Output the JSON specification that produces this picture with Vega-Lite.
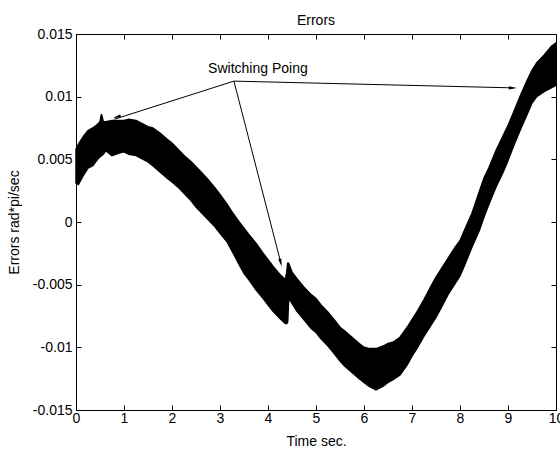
{
  "$schema": "https://vega.github.io/schema/vega-lite/v6.json",
  "width": 480,
  "height": 376,
  "autosize": {"type": "none"},
  "padding": {"left": 76, "top": 34, "right": 4, "bottom": 39},
  "background": "white",
  "title": {"text": "Errors", "fontSize": 14, "font": "Liberation Sans", "fontWeight": "normal", "baseline": "alphabetic", "offset": -12, "anchor": "middle", "color": "black"},
  "config": {
    "font": "Liberation Sans",
    "view": {"stroke": null},
    "axis": {
      "grid": false,
      "domainColor": "black",
      "tickColor": "black",
      "labelColor": "black",
      "titleColor": "black",
      "labelFontSize": 14,
      "titleFontSize": 14,
      "titleFontWeight": "normal",
      "labelFont": "Liberation Sans",
      "titleFont": "Liberation Sans",
      "tickSize": -5,
      "domainWidth": 1,
      "tickWidth": 1
    }
  },
  "layer": [
    {
      "data": {"values": [
        {"t": 0.00, "hi": 0.0058, "lo": 0.0031},
        {"t": 0.05, "hi": 0.0062, "lo": 0.0030},
        {"t": 0.15, "hi": 0.0068, "lo": 0.0037},
        {"t": 0.25, "hi": 0.0073, "lo": 0.0043},
        {"t": 0.35, "hi": 0.0075, "lo": 0.0045},
        {"t": 0.45, "hi": 0.0078, "lo": 0.0050},
        {"t": 0.50, "hi": 0.0080, "lo": 0.0052},
        {"t": 0.53, "hi": 0.0086, "lo": 0.0053},
        {"t": 0.57, "hi": 0.0080, "lo": 0.0054},
        {"t": 0.62, "hi": 0.0080, "lo": 0.0057},
        {"t": 0.75, "hi": 0.0081, "lo": 0.0053},
        {"t": 0.90, "hi": 0.0081, "lo": 0.0055},
        {"t": 1.00, "hi": 0.0081, "lo": 0.0056},
        {"t": 1.10, "hi": 0.0082, "lo": 0.0054},
        {"t": 1.25, "hi": 0.0081, "lo": 0.0053},
        {"t": 1.40, "hi": 0.0078, "lo": 0.0050},
        {"t": 1.50, "hi": 0.0076, "lo": 0.0048},
        {"t": 1.60, "hi": 0.0075, "lo": 0.0045},
        {"t": 1.75, "hi": 0.0071, "lo": 0.0040},
        {"t": 1.90, "hi": 0.0066, "lo": 0.0035},
        {"t": 2.00, "hi": 0.0063, "lo": 0.0032},
        {"t": 2.15, "hi": 0.0057, "lo": 0.0027},
        {"t": 2.25, "hi": 0.0053, "lo": 0.0023},
        {"t": 2.40, "hi": 0.0048, "lo": 0.0017},
        {"t": 2.50, "hi": 0.0044, "lo": 0.0012},
        {"t": 2.65, "hi": 0.0038, "lo": 0.0006},
        {"t": 2.75, "hi": 0.0034, "lo": 0.0002},
        {"t": 2.90, "hi": 0.0027, "lo": -0.0004},
        {"t": 3.00, "hi": 0.0022, "lo": -0.0009},
        {"t": 3.15, "hi": 0.0014, "lo": -0.0016},
        {"t": 3.25, "hi": 0.0008, "lo": -0.0023},
        {"t": 3.40, "hi": 0.0000, "lo": -0.0034},
        {"t": 3.50, "hi": -0.0005, "lo": -0.0041},
        {"t": 3.60, "hi": -0.0010, "lo": -0.0046},
        {"t": 3.75, "hi": -0.0017, "lo": -0.0054},
        {"t": 3.90, "hi": -0.0025, "lo": -0.0061},
        {"t": 4.00, "hi": -0.0030, "lo": -0.0066},
        {"t": 4.10, "hi": -0.0035, "lo": -0.0071},
        {"t": 4.25, "hi": -0.0042, "lo": -0.0077},
        {"t": 4.36, "hi": -0.0046, "lo": -0.0081},
        {"t": 4.39, "hi": -0.0040, "lo": -0.0081},
        {"t": 4.41, "hi": -0.0033, "lo": -0.0080},
        {"t": 4.43, "hi": -0.0033, "lo": -0.0062},
        {"t": 4.47, "hi": -0.0037, "lo": -0.0063},
        {"t": 4.50, "hi": -0.0040, "lo": -0.0065},
        {"t": 4.60, "hi": -0.0045, "lo": -0.0071},
        {"t": 4.75, "hi": -0.0052, "lo": -0.0078},
        {"t": 4.90, "hi": -0.0058, "lo": -0.0085},
        {"t": 5.00, "hi": -0.0061, "lo": -0.0088},
        {"t": 5.10, "hi": -0.0066, "lo": -0.0093},
        {"t": 5.25, "hi": -0.0072, "lo": -0.0099},
        {"t": 5.40, "hi": -0.0079, "lo": -0.0106},
        {"t": 5.50, "hi": -0.0084, "lo": -0.0111},
        {"t": 5.60, "hi": -0.0087, "lo": -0.0115},
        {"t": 5.75, "hi": -0.0092, "lo": -0.0120},
        {"t": 5.90, "hi": -0.0097, "lo": -0.0125},
        {"t": 6.00, "hi": -0.0100, "lo": -0.0128},
        {"t": 6.10, "hi": -0.0101, "lo": -0.0131},
        {"t": 6.25, "hi": -0.0101, "lo": -0.0134},
        {"t": 6.40, "hi": -0.0099, "lo": -0.0131},
        {"t": 6.50, "hi": -0.0097, "lo": -0.0128},
        {"t": 6.60, "hi": -0.0096, "lo": -0.0126},
        {"t": 6.75, "hi": -0.0092, "lo": -0.0122},
        {"t": 6.90, "hi": -0.0084, "lo": -0.0114},
        {"t": 7.00, "hi": -0.0078, "lo": -0.0107},
        {"t": 7.10, "hi": -0.0072, "lo": -0.0101},
        {"t": 7.25, "hi": -0.0062, "lo": -0.0091},
        {"t": 7.40, "hi": -0.0051, "lo": -0.0082},
        {"t": 7.50, "hi": -0.0044, "lo": -0.0076},
        {"t": 7.60, "hi": -0.0038, "lo": -0.0069},
        {"t": 7.75, "hi": -0.0029, "lo": -0.0058},
        {"t": 7.90, "hi": -0.0020, "lo": -0.0049},
        {"t": 8.00, "hi": -0.0015, "lo": -0.0043},
        {"t": 8.10, "hi": -0.0006, "lo": -0.0034},
        {"t": 8.25, "hi": 0.0007, "lo": -0.0020},
        {"t": 8.40, "hi": 0.0024, "lo": -0.0007},
        {"t": 8.50, "hi": 0.0035, "lo": 0.0004},
        {"t": 8.60, "hi": 0.0043, "lo": 0.0014},
        {"t": 8.75, "hi": 0.0057, "lo": 0.0028},
        {"t": 8.90, "hi": 0.0069, "lo": 0.0040},
        {"t": 9.00, "hi": 0.0077, "lo": 0.0049},
        {"t": 9.10, "hi": 0.0086, "lo": 0.0059},
        {"t": 9.25, "hi": 0.0100, "lo": 0.0073},
        {"t": 9.40, "hi": 0.0113, "lo": 0.0086},
        {"t": 9.50, "hi": 0.0121, "lo": 0.0095},
        {"t": 9.60, "hi": 0.0127, "lo": 0.0100},
        {"t": 9.75, "hi": 0.0133, "lo": 0.0104},
        {"t": 9.90, "hi": 0.0140, "lo": 0.0107},
        {"t": 10.00, "hi": 0.0143, "lo": 0.0109}
      ]},
      "mark": {"type": "area", "color": "black", "stroke": "black", "strokeWidth": 1.5, "opacity": 1},
      "encoding": {
        "x": {"field": "t", "type": "quantitative", "scale": {"domain": [0, 10], "nice": false, "zero": false},
          "axis": {"orient": "bottom", "values": [0,1,2,3,4,5,6,7,8,9,10], "labelPadding": 6, "title": "Time sec.", "titlePadding": 9, "labelFlush": false}},
        "y": {"field": "hi", "type": "quantitative", "scale": {"domain": [-0.015, 0.015], "nice": false, "zero": false},
          "axis": {"orient": "left", "values": [-0.015,-0.01,-0.005,0,0.005,0.01,0.015], "labelExpr": "toString(datum.value)", "labelPadding": 9, "title": "Errors rad*pi/sec", "titlePadding": 11, "labelFlush": false}},
        "y2": {"field": "lo"}
      }
    },
    {
      "data": {"values": [
        {"t0": 3.29, "v0": 0.01124, "t1": 0.80, "v1": 0.0082},
        {"t0": 3.29, "v0": 0.01124, "t1": 4.27, "v1": -0.0033},
        {"t0": 3.29, "v0": 0.01124, "t1": 9.12, "v1": 0.0107}
      ]},
      "mark": {"type": "rule", "color": "black", "strokeWidth": 1},
      "encoding": {
        "x": {"field": "t0", "type": "quantitative", "axis": null},
        "y": {"field": "v0", "type": "quantitative", "axis": null},
        "x2": {"field": "t1"},
        "y2": {"field": "v1"}
      }
    },
    {
      "data": {"values": [{"t": 0.85, "v": 0.00839}]},
      "mark": {"type": "point", "shape": "M-1,-0.4L1,0L-1,0.4Z", "size": 64, "filled": true, "color": "black", "opacity": 1, "angle": 163},
      "encoding": {
        "x": {"field": "t", "type": "quantitative", "axis": null},
        "y": {"field": "v", "type": "quantitative", "axis": null}
      }
    },
    {
      "data": {"values": [{"t": 4.265, "v": -0.00325}]},
      "mark": {"type": "point", "shape": "M-1,-0.4L1,0L-1,0.4Z", "size": 64, "filled": true, "color": "black", "opacity": 1, "angle": 75.6},
      "encoding": {
        "x": {"field": "t", "type": "quantitative", "axis": null},
        "y": {"field": "v", "type": "quantitative", "axis": null}
      }
    },
    {
      "data": {"values": [{"t": 9.10, "v": 0.01069}]},
      "mark": {"type": "point", "shape": "M-1,-0.4L1,0L-1,0.4Z", "size": 64, "filled": true, "color": "black", "opacity": 1, "angle": 1.4},
      "encoding": {
        "x": {"field": "t", "type": "quantitative", "axis": null},
        "y": {"field": "v", "type": "quantitative", "axis": null}
      }
    },
    {
      "data": {"values": [{"t": 3.79, "v": 0.0119, "label": "Switching Poing"}]},
      "mark": {"type": "text", "align": "center", "baseline": "alphabetic", "fontSize": 14, "font": "Liberation Sans", "color": "black"},
      "encoding": {
        "x": {"field": "t", "type": "quantitative",
          "axis": {"orient": "top", "values": [0,1,2,3,4,5,6,7,8,9,10], "labels": false, "title": null}},
        "y": {"field": "v", "type": "quantitative",
          "axis": {"orient": "right", "values": [-0.015,-0.01,-0.005,0,0.005,0.01,0.015], "labels": false, "title": null}},
        "text": {"field": "label"}
      }
    }
  ],
  "resolve": {"axis": {"x": "independent", "y": "independent"}}
}
